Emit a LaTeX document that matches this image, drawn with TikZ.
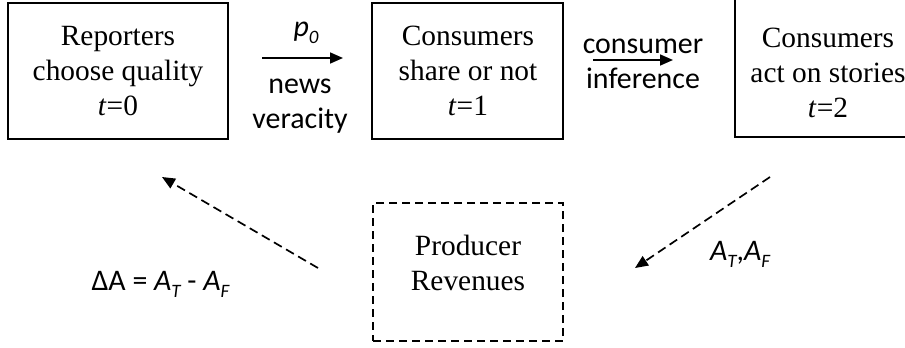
\documentclass[tikz,border=0pt]{standalone}
\usepackage{fontspec}
\setmainfont{Liberation Serif}
\newfontfamily\labfont{Carlito}
\newcommand\mysub[1]{\raisebox{-0.26em}{\fontsize{19}{19}\selectfont #1}}
\usetikzlibrary{arrows.meta,calc}
\begin{document}
\begin{tikzpicture}[x=1bp,y=-1bp,
  boxs/.style={draw, line width=1.6bp, inner sep=0pt},
  txt/.style={font=\fontsize{29.5}{35}\selectfont, align=center, inner sep=0pt, anchor=base},
  lbl/.style={font=\labfont\fontsize{30}{35}\selectfont, align=center, inner sep=0pt, anchor=base},
  arr/.style={line width=1.7bp, -{Triangle[length=13bp,width=11bp]}},
  darr/.style={line width=1.7bp, dash pattern=on 9bp off 5bp, -{Triangle[length=13bp,width=11bp]}}
]
\useasboundingbox (0,0) rectangle (905,347);
% top boxes
\node[boxs, minimum width=220bp, minimum height=136bp] (b1) at (118,71) {};
\node[txt] (t1) at (118,115) {Reporters\\choose quality\\\textit{t}=0};
\node[boxs, minimum width=191bp, minimum height=136bp] (b2) at (467.5,71) {};
\node[txt] (t2) at (468,115) {Consumers\\share or not\\\textit{t}=1};
\node[boxs, minimum width=185bp, minimum height=142bp] (b3) at (827.5,66) {};
\node[txt] (t3) at (828,117) {Consumers\\act on stories\\\textit{t}=2};
% bottom dashed box
\node[draw, line width=1.6bp, dash pattern=on 8bp off 5bp, minimum width=190bp, minimum height=138bp, inner sep=0pt] (b4) at (468,272) {};
\node[txt] (t4) at (468,290) {Producer\\Revenues};
% arrows top
\coordinate (a1s) at (262,58);
\coordinate (a1e) at (343,58);
\draw[arr] (a1s) -- (a1e);
\coordinate (a2s) at (593,60);
\coordinate (a2e) at (673,60);
\draw[arr] (a2s) -- (a2e);
% labels top
\node[lbl] (p0) at (306,36) {\textit{p\mysub{0}}};
\node[lbl] (nv) at (300,128) {news\\veracity};
\node[lbl] (ci) at (643,88) {consumer\\inference};
% dashed arrows
\coordinate (d1s) at (770,177);
\coordinate (d1e) at (635,268);
\draw[darr] (d1s) -- (d1e);
\coordinate (d2s) at (318,268);
\coordinate (d2e) at (162,177);
\draw[darr] (d2s) -- (d2e);
% labels bottom
\node[lbl] (da) at (160.5,290) {ΔA = \textit{A\mysub{T}} - \textit{A\mysub{F}}};
\node[lbl] (atf) at (740,260) {\textit{A\mysub{T}},\textit{A\mysub{F}}};
\end{tikzpicture}
\end{document}
